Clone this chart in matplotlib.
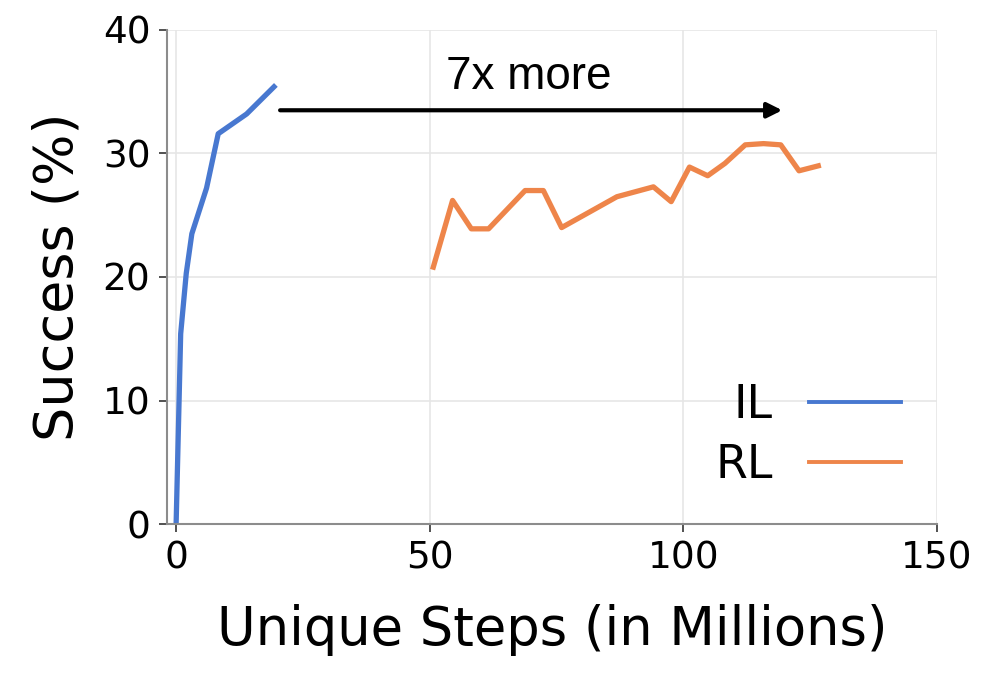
import matplotlib
matplotlib.use("Agg")
import matplotlib.pyplot as plt

il_x = [0.0, 0.9, 2.0, 3.1, 6.0, 8.3, 13.9, 19.3]
il_y = [0.0, 15.4, 20.3, 23.5, 27.2, 31.6, 33.2, 35.4]

rl_x = [50.7, 54.5, 58.2, 61.6, 68.8, 72.4, 76.0, 86.9, 94.1, 97.6, 101.2,
        104.8, 108.2, 112.2, 115.8, 119.2, 122.8, 126.6]
rl_y = [20.8, 26.2, 23.9, 23.9, 27.0, 27.0, 24.0, 26.5, 27.3, 26.1, 28.9,
        28.2, 29.2, 30.7, 30.8, 30.7, 28.6, 29.0]

x_ticks = [0, 50, 100, 150]
y_ticks = [0, 10, 20, 30, 40]
arrow_start = (20.5, 33.5)
arrow_end = (119.5, 33.5)
annot_text = "7x more"
annot_pos = (69.5, 36.2)

blue = "#4878d0"
orange = "#ee854a"

fig = plt.figure(figsize=(9.91, 6.8), dpi=100)
ax = fig.add_axes([0.1685, 0.2294, 0.777, 0.7265])

ax.plot(il_x, il_y, color=blue, lw=3.8, label="IL")
ax.plot(rl_x, rl_y, color=orange, lw=3.8, label="RL")

ax.set_xlim(-1.8, 150)
ax.set_ylim(0, 40)
ax.set_xticks(x_ticks)
ax.set_yticks(y_ticks)
ax.grid(True, color="#e6e6e6", lw=1.2)
ax.set_axisbelow(True)
for s in ["top", "right"]:
    ax.spines[s].set_visible(False)
for s in ["left", "bottom"]:
    ax.spines[s].set_color("#8c8c8c")
    ax.spines[s].set_linewidth(1.5)
ax.tick_params(labelsize=27, length=6, width=1.2, color="#333333", pad=6)

ax.set_xlabel("Unique Steps (in Millions)", fontsize=38, labelpad=20)
ax.set_ylabel("Success (%)", fontsize=39, labelpad=14)

ax.annotate("", xy=arrow_end, xytext=arrow_start,
            arrowprops=dict(arrowstyle="-|>,head_length=0.9,head_width=0.45",
                            color="black", lw=3.0, shrinkA=0, shrinkB=0))
ax.text(annot_pos[0], annot_pos[1], annot_text, fontsize=33,
        family="Liberation Sans", ha="center", va="center")

leg = ax.legend(loc="lower right", bbox_to_anchor=(1.007, -0.01), frameon=False,
                fontsize=33, markerfirst=False, labelspacing=0.33,
                handlelength=2.0, handletextpad=0.8)
for line in leg.get_lines():
    line.set_linewidth(2.8)

fig.savefig("out.png", dpi=100)
